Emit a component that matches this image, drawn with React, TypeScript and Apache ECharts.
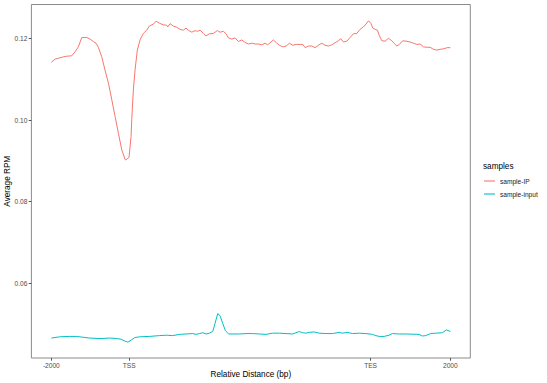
import React, { useEffect, useRef } from "react";
import * as echarts from "echarts";

// x positions: -2000 -> 0, TSS -> 78, TES -> 320, 2000 -> 400
const tickPositions = [0, 78, 320, 400];
const tickLabels = ["-2000", "TSS", "TES", "2000"];
const yTicks = [0.06, 0.08, 0.1, 0.12];

const seriesNames = ["sample-IP", "sample-input"];
const seriesColors = ["#F8766D", "#00BFC4"];

const ipX = [
  0, 3.7, 7, 11.4, 15.4, 20.4, 23.8, 27.1, 30.5, 35.5, 38.8, 42.1, 44.8, 47.1, 50.5, 53.8,
  57.2, 60.6, 63.9, 67.2, 70.6, 73.9, 74.6, 77.9, 79.9, 80.6, 82.2, 83.9, 86.2, 88.9, 92.2,
  95.6, 98.2, 102.3, 104.9, 108.3, 112.3, 115.7, 116.7, 119, 122.3, 125.7, 129, 132.4, 135,
  137.3, 140.8, 144.1, 146.4, 149.1, 152.4, 155.1, 158.4, 162.4, 166.5, 169.1, 172.5, 175.2,
  177.5, 180.9, 184.2, 187.5, 190.9, 194.2, 197.5, 200.9, 204.2, 207.5, 210.9, 214.3, 216.6,
  219.3, 222.6, 226, 228.6, 232, 235.4, 238.7, 242.1, 245.4, 249.4, 252.1, 254.4, 257.7,
  261.1, 264.4, 267.7, 271.1, 274.4, 277.7, 281.1, 284.4, 287.7, 290.2, 292.8, 296.2, 299.5,
  302.8, 306.2, 309.5, 312.8, 315.5, 317.9, 320.3, 322.3, 324.6, 326.9, 328.9, 331.3, 334.6,
  337.9, 341.3, 343.6, 346.3, 348.9, 352.3, 355.6, 359.7, 363, 366.4, 369.7, 373, 376.4,
  379.7, 383, 386.5, 389.7, 392.9, 396.8, 400,
];
const ipY = [
  0.1142, 0.115, 0.1152, 0.1155, 0.1157, 0.1158, 0.1168, 0.118, 0.1203, 0.1203, 0.1199,
  0.1193, 0.1189, 0.1179, 0.1156, 0.1123, 0.1091, 0.105, 0.1009, 0.0968, 0.0927, 0.0904,
  0.0902, 0.0909, 0.096, 0.1001, 0.1074, 0.1123, 0.1172, 0.1197, 0.1213, 0.1221, 0.1231,
  0.1236, 0.1243, 0.1238, 0.1234, 0.1233, 0.1229, 0.1237, 0.1231, 0.1228, 0.1223, 0.1221,
  0.1226, 0.1221, 0.1216, 0.122, 0.1218, 0.1221, 0.1213, 0.1207, 0.1212, 0.1213, 0.122,
  0.1216, 0.1218, 0.1212, 0.1202, 0.1199, 0.1202, 0.1193, 0.1197, 0.1191, 0.1187, 0.1189,
  0.1187, 0.1187, 0.1185, 0.1189, 0.1185, 0.119, 0.1197, 0.1189, 0.1184, 0.118, 0.1182,
  0.1189, 0.1184, 0.1186, 0.1186, 0.1186, 0.1178, 0.1182, 0.1182, 0.1178, 0.1184, 0.1189,
  0.1184, 0.1182, 0.1185, 0.119, 0.1195, 0.12, 0.1192, 0.1194, 0.1203, 0.1212, 0.1213,
  0.1223, 0.1229, 0.1236, 0.1244, 0.1238, 0.1226, 0.1223, 0.1221, 0.1207, 0.1195, 0.1194,
  0.1201, 0.1195, 0.1189, 0.1182, 0.1186, 0.1195, 0.1194, 0.1192, 0.1189, 0.1186, 0.1187,
  0.118, 0.1179, 0.1179, 0.1174, 0.1172, 0.1174, 0.1175, 0.1178, 0.1178,
];

const inputX = [
  0, 8.3, 18.3, 25, 31.7, 38.4, 46.7, 51.7, 58.4, 65, 70, 73.4, 76.7, 80.1, 83.4, 88.4, 98.4,
  108.4, 115.1, 121.7, 128.4, 135.1, 141.8, 145.1, 148.4, 151.8, 155.1, 158.5, 161.8, 164.1,
  166.8, 169.1, 171.8, 174.5, 177.8, 188.5, 195.2, 201.8, 208.5, 215.2, 221.8, 228.5, 235.2,
  241.9, 248.5, 251.9, 255.2, 258.5, 263.5, 268.5, 275.2, 281.9, 288.6, 291.9, 296.9, 301.9,
  308.6, 315.3, 321.9, 325.3, 328.6, 333.6, 338.6, 341.9, 348.6, 355.3, 368.6, 371.9, 375.3,
  380.3, 385.3, 391.9, 396.1, 400,
];
const inputY = [
  0.0465, 0.0468, 0.0469, 0.0469, 0.0467, 0.0465, 0.0464, 0.0464, 0.0465, 0.0464, 0.0462,
  0.0458, 0.0455, 0.046, 0.0466, 0.0468, 0.0469, 0.0471, 0.0472, 0.0471, 0.0474, 0.0475,
  0.0476, 0.0474, 0.0476, 0.0478, 0.0475, 0.0477, 0.0481, 0.0501, 0.0525, 0.052, 0.0501,
  0.0483, 0.0475, 0.0475, 0.0476, 0.0476, 0.0475, 0.0474, 0.0477, 0.0477, 0.0476, 0.0475,
  0.0481, 0.0478, 0.0477, 0.0479, 0.048, 0.0477, 0.0476, 0.0476, 0.0479, 0.0477, 0.0479,
  0.0476, 0.0477, 0.0476, 0.0474, 0.0471, 0.0469, 0.0469, 0.0472, 0.0476, 0.0475, 0.0475,
  0.0474, 0.047, 0.0471, 0.0476, 0.0477, 0.0478, 0.0485, 0.0481,
];

const FONT = "Liberation Sans";

export default function App() {
  const ref = useRef<HTMLDivElement>(null);
  useEffect(() => {
    if (!ref.current) return;
    const chart = echarts.init(ref.current, undefined, { renderer: "svg" });
    chart.setOption({
      animation: false,
      backgroundColor: "#ffffff",
      textStyle: { fontFamily: FONT },
      title: {
        text: "samples",
        left: 483,
        top: 162.5,
        padding: 0,
        textStyle: { fontFamily: FONT, fontSize: 8.2, fontWeight: "normal", color: "#000" },
      },
      legend: {
        data: seriesNames.map((n, i) => ({
          name: n,
          icon: "rect",
          itemStyle: { color: seriesColors[i], opacity: 0.55 },
        })),
        orient: "vertical",
        left: 484,
        top: 176,
        padding: 0,
        itemWidth: 11,
        itemHeight: 2,
        itemGap: 3,
        textStyle: { fontFamily: FONT, fontSize: 6.6, lineHeight: 10, color: "#222" },
      },
      grid: {
        left: 31.4,
        right: 76.7,
        top: 4.5,
        bottom: 25,
        outerBoundsMode: "none",
        containLabel: false,
        show: true,
        borderColor: "#8a8a8a",
        borderWidth: 1,
        backgroundColor: "#ffffff",
      },
      xAxis: {
        type: "value",
        min: -20,
        max: 420,
        name: "Relative Distance (bp)",
        nameLocation: "middle",
        nameGap: 12,
        nameMoveOverlap: false,
        nameTextStyle: { fontFamily: FONT, fontSize: 8.2, color: "#000" },
        axisLine: { show: false, onZero: false },
        splitLine: { show: false },
        axisTick: {
          show: true,
          length: 2.7,
          customValues: tickPositions,
          lineStyle: { color: "#555" },
        },
        axisLabel: {
          customValues: tickPositions,
          formatter: (v: number) => {
            const i = tickPositions.indexOf(v);
            return i >= 0 ? tickLabels[i] : "";
          },
          fontFamily: FONT,
          fontSize: 6.6,
          color: "#4d4d4d",
          margin: 4,
        },
      },
      yAxis: {
        type: "value",
        min: 0.0416,
        max: 0.1284,
        name: "Average RPM",
        nameLocation: "middle",
        nameGap: 20,
        nameRotate: 90,
        nameMoveOverlap: false,
        nameTextStyle: { fontFamily: FONT, fontSize: 8.2, color: "#000" },
        axisLine: { show: false, onZero: false },
        splitLine: { show: false },
        axisTick: {
          show: true,
          length: 2.7,
          customValues: yTicks,
          lineStyle: { color: "#555" },
        },
        axisLabel: {
          customValues: yTicks,
          formatter: (v: number) => v.toFixed(2),
          fontFamily: FONT,
          fontSize: 6.6,
          color: "#4d4d4d",
          margin: 4,
        },
      },
      series: [
        {
          name: seriesNames[0],
          type: "line",
          data: ipX.map((x, i) => [x, ipY[i]]),
          symbol: "none",
          lineStyle: { color: seriesColors[0], width: 1 },
          itemStyle: { color: seriesColors[0] },
        },
        {
          name: seriesNames[1],
          type: "line",
          data: inputX.map((x, i) => [x, inputY[i]]),
          symbol: "none",
          lineStyle: { color: seriesColors[1], width: 1 },
          itemStyle: { color: seriesColors[1] },
        },
      ],
    });
    return () => chart.dispose();
  }, []);
  return (
    <div
      ref={ref}
      style={{ position: "fixed", left: 0, top: 0, width: 547, height: 383 }}
    />
  );
}
